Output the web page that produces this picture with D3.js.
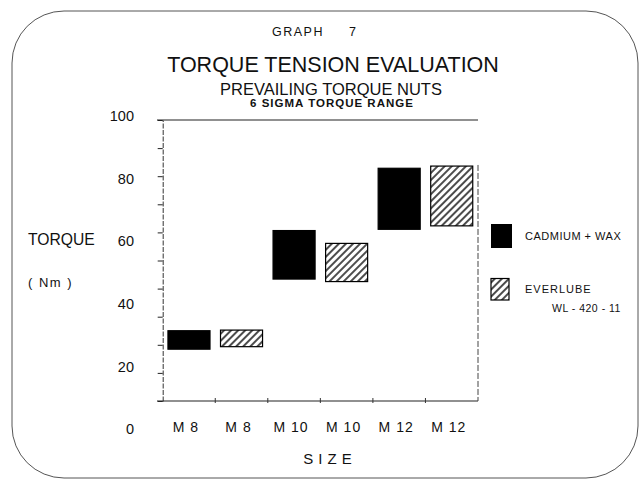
<!DOCTYPE html>
<html>
<head>
<meta charset="utf-8">
<script src="https://cdn.jsdelivr.net/npm/d3@7"></script>
<style>
  body { margin: 0; background: #fff; }
  text { font-family: "Liberation Sans", Arial, sans-serif; fill: #111; }
</style>
</head>
<body>
<script>
// chart values
var sizes = ["M 8", "M 8", "M 10", "M 10", "M 12", "M 12"],
    coatings = ["CADMIUM + WAX", "EVERLUBE", "CADMIUM + WAX", "EVERLUBE", "CADMIUM + WAX", "EVERLUBE"],
    lowTorque = [25.5, 26.3, 47.9, 47.1, 63.8, 64.9],
    highTorque = [31.4, 31.6, 63.4, 59.3, 83.3, 84.0],
    yTickLabels = [0, 20, 40, 60, 80, 100],
    yMinorTicks = [0, 10, 20, 30, 40, 50, 60, 70, 80, 90, 100];

var width = 639, height = 479;

var svg = d3.select("body")
    .append("svg")
        .attr("width", width)
        .attr("height", height);

// hatch pattern for the everlube bars
var defs = svg.append("defs");
defs.append("pattern")
    .attr("id", "hatch")
    .attr("patternUnits", "userSpaceOnUse")
    .attr("width", 5)
    .attr("height", 5)
    .attr("patternTransform", "rotate(45)")
    .append("line")
        .attr("x1", 2).attr("y1", 0)
        .attr("x2", 2).attr("y2", 5)
        .attr("stroke", "#000")
        .attr("stroke-width", 1.4);

// rounded frame
svg.append("rect")
    .attr("x", 12).attr("y", 11)
    .attr("width", 626).attr("height", 467)
    .attr("rx", 52).attr("ry", 52)
    .attr("fill", "none")
    .attr("stroke", "#555")
    .attr("stroke-width", 1);

// titles
svg.append("text").attr("x", 272).attr("y", 36)
    .style("font-size", "12.5px").style("letter-spacing", "1.5px")
    .text("GRAPH");
svg.append("text").attr("x", 349).attr("y", 36)
    .style("font-size", "12.5px")
    .text("7");
svg.append("text").attr("x", 333).attr("y", 72)
    .attr("text-anchor", "middle")
    .style("font-size", "21.5px")
    .text("TORQUE TENSION EVALUATION");
svg.append("text").attr("x", 331).attr("y", 95)
    .attr("text-anchor", "middle")
    .style("font-size", "16.5px")
    .text("PREVAILING TORQUE NUTS");
svg.append("text").attr("x", 332).attr("y", 106.5)
    .attr("text-anchor", "middle")
    .style("font-size", "11.5px").style("font-weight", "bold").style("letter-spacing", "1px")
    .text("6 SIGMA TORQUE RANGE");

// scales
var x = d3.scaleBand()
    .domain(d3.range(sizes.length))
    .range([162.7, 478])
    .paddingInner(0.2)
    .paddingOuter(0.1);

// the tick marks on the drawn axis
var yTick = d3.scaleLinear()
    .domain([0, 100])
    .range([401, 120]);

// the printed value labels (spaced differently from the tick marks in the original)
var y = d3.scaleLinear()
    .domain([0, 100])
    .range([429, 116]);

// left axis with minor ticks
var leftAxis = svg.append("g")
    .attr("transform", "translate(162.7,0)")
    .call(d3.axisLeft(yTick)
        .tickValues(yMinorTicks)
        .tickSize(5)
        .tickSizeOuter(0)
        .tickFormat(""));
leftAxis.select(".domain").attr("stroke", "#333").attr("stroke-dasharray", "5,1.5");
leftAxis.selectAll(".tick line").attr("stroke", "#222");

// value labels
var labelAxis = svg.append("g")
    .attr("transform", "translate(134,0)")
    .call(d3.axisLeft(y)
        .tickValues(yTickLabels)
        .tickSize(0)
        .tickPadding(0));
labelAxis.select(".domain").remove();
labelAxis.selectAll("text")
    .style("font-family", "'Liberation Sans', Arial, sans-serif")
    .style("font-size", "14.5px")
    .attr("fill", "#111");

// top and bottom rules
svg.append("line")
    .attr("x1", 157).attr("x2", 478)
    .attr("y1", yTick(100)).attr("y2", yTick(100))
    .attr("stroke", "#222").attr("stroke-width", 1.2);

var bottomAxis = svg.append("g")
    .attr("transform", "translate(0," + yTick(0) + ")");
bottomAxis.append("line")
    .attr("x1", 157).attr("x2", 478)
    .attr("stroke", "#222").attr("stroke-width", 1.2);
bottomAxis.selectAll(".sep")
    .data(d3.range(1, sizes.length))
    .enter()
    .append("line")
        .attr("x1", function(d) { return x.range()[0] + d * x.step(); })
        .attr("x2", function(d) { return x.range()[0] + d * x.step(); })
        .attr("y1", -3).attr("y2", 2)
        .attr("stroke", "#333");

// right side rule
svg.append("line")
    .attr("x1", 478).attr("x2", 478)
    .attr("y1", yTick(84)).attr("y2", yTick(0))
    .attr("stroke", "#444")
    .attr("stroke-dasharray", "6,2");

// size labels
svg.append("g")
    .selectAll("text")
    .data(sizes)
    .enter()
    .append("text")
        .attr("x", function(d, i) { return x(i) + x.bandwidth() / 2 - 3; })
        .attr("y", 432)
        .attr("text-anchor", "middle")
        .style("font-size", "14px")
        .style("letter-spacing", "1px")
        .text(function(d) { return d; });

svg.append("text")
    .attr("x", 330).attr("y", 464)
    .attr("text-anchor", "middle")
    .style("font-size", "15px")
    .style("letter-spacing", "5px")
    .text("SIZE");

// axis title
svg.append("text").attr("x", 28).attr("y", 245)
    .style("font-size", "15.7px")
    .text("TORQUE");
svg.append("text").attr("x", 28).attr("y", 287)
    .style("font-size", "13px").style("letter-spacing", "1.5px")
    .text("( Nm )");

// bars
svg.append("g")
    .selectAll("rect")
    .data(sizes)
    .enter()
    .append("rect")
        .attr("x", function(d, i) { return x(i); })
        .attr("width", x.bandwidth())
        .attr("y", function(d, i) { return y(highTorque[i]); })
        .attr("height", function(d, i) { return y(lowTorque[i]) - y(highTorque[i]); })
        .attr("fill", function(d, i) { return coatings[i] === "EVERLUBE" ? "url(#hatch)" : "#000"; })
        .attr("stroke", "#000")
        .attr("stroke-width", 1.2);

// legend
var legend = svg.append("g");
legend.append("rect")
    .attr("x", 491).attr("y", 224)
    .attr("width", 21).attr("height", 24)
    .attr("fill", "#000");
legend.append("text").attr("x", 525).attr("y", 240)
    .style("font-size", "11px").style("letter-spacing", "0.5px")
    .text("CADMIUM + WAX");
legend.append("rect")
    .attr("x", 491).attr("y", 278.5)
    .attr("width", 18).attr("height", 21.5)
    .attr("fill", "url(#hatch)")
    .attr("stroke", "#000")
    .attr("stroke-width", 1.2);
legend.append("text").attr("x", 525).attr("y", 293)
    .style("font-size", "11px").style("letter-spacing", "1px")
    .text("EVERLUBE");
legend.append("text").attr("x", 552).attr("y", 312)
    .style("font-size", "10.5px").style("letter-spacing", "0.5px")
    .text("WL - 420 - 11");
</script>
</body>
</html>
